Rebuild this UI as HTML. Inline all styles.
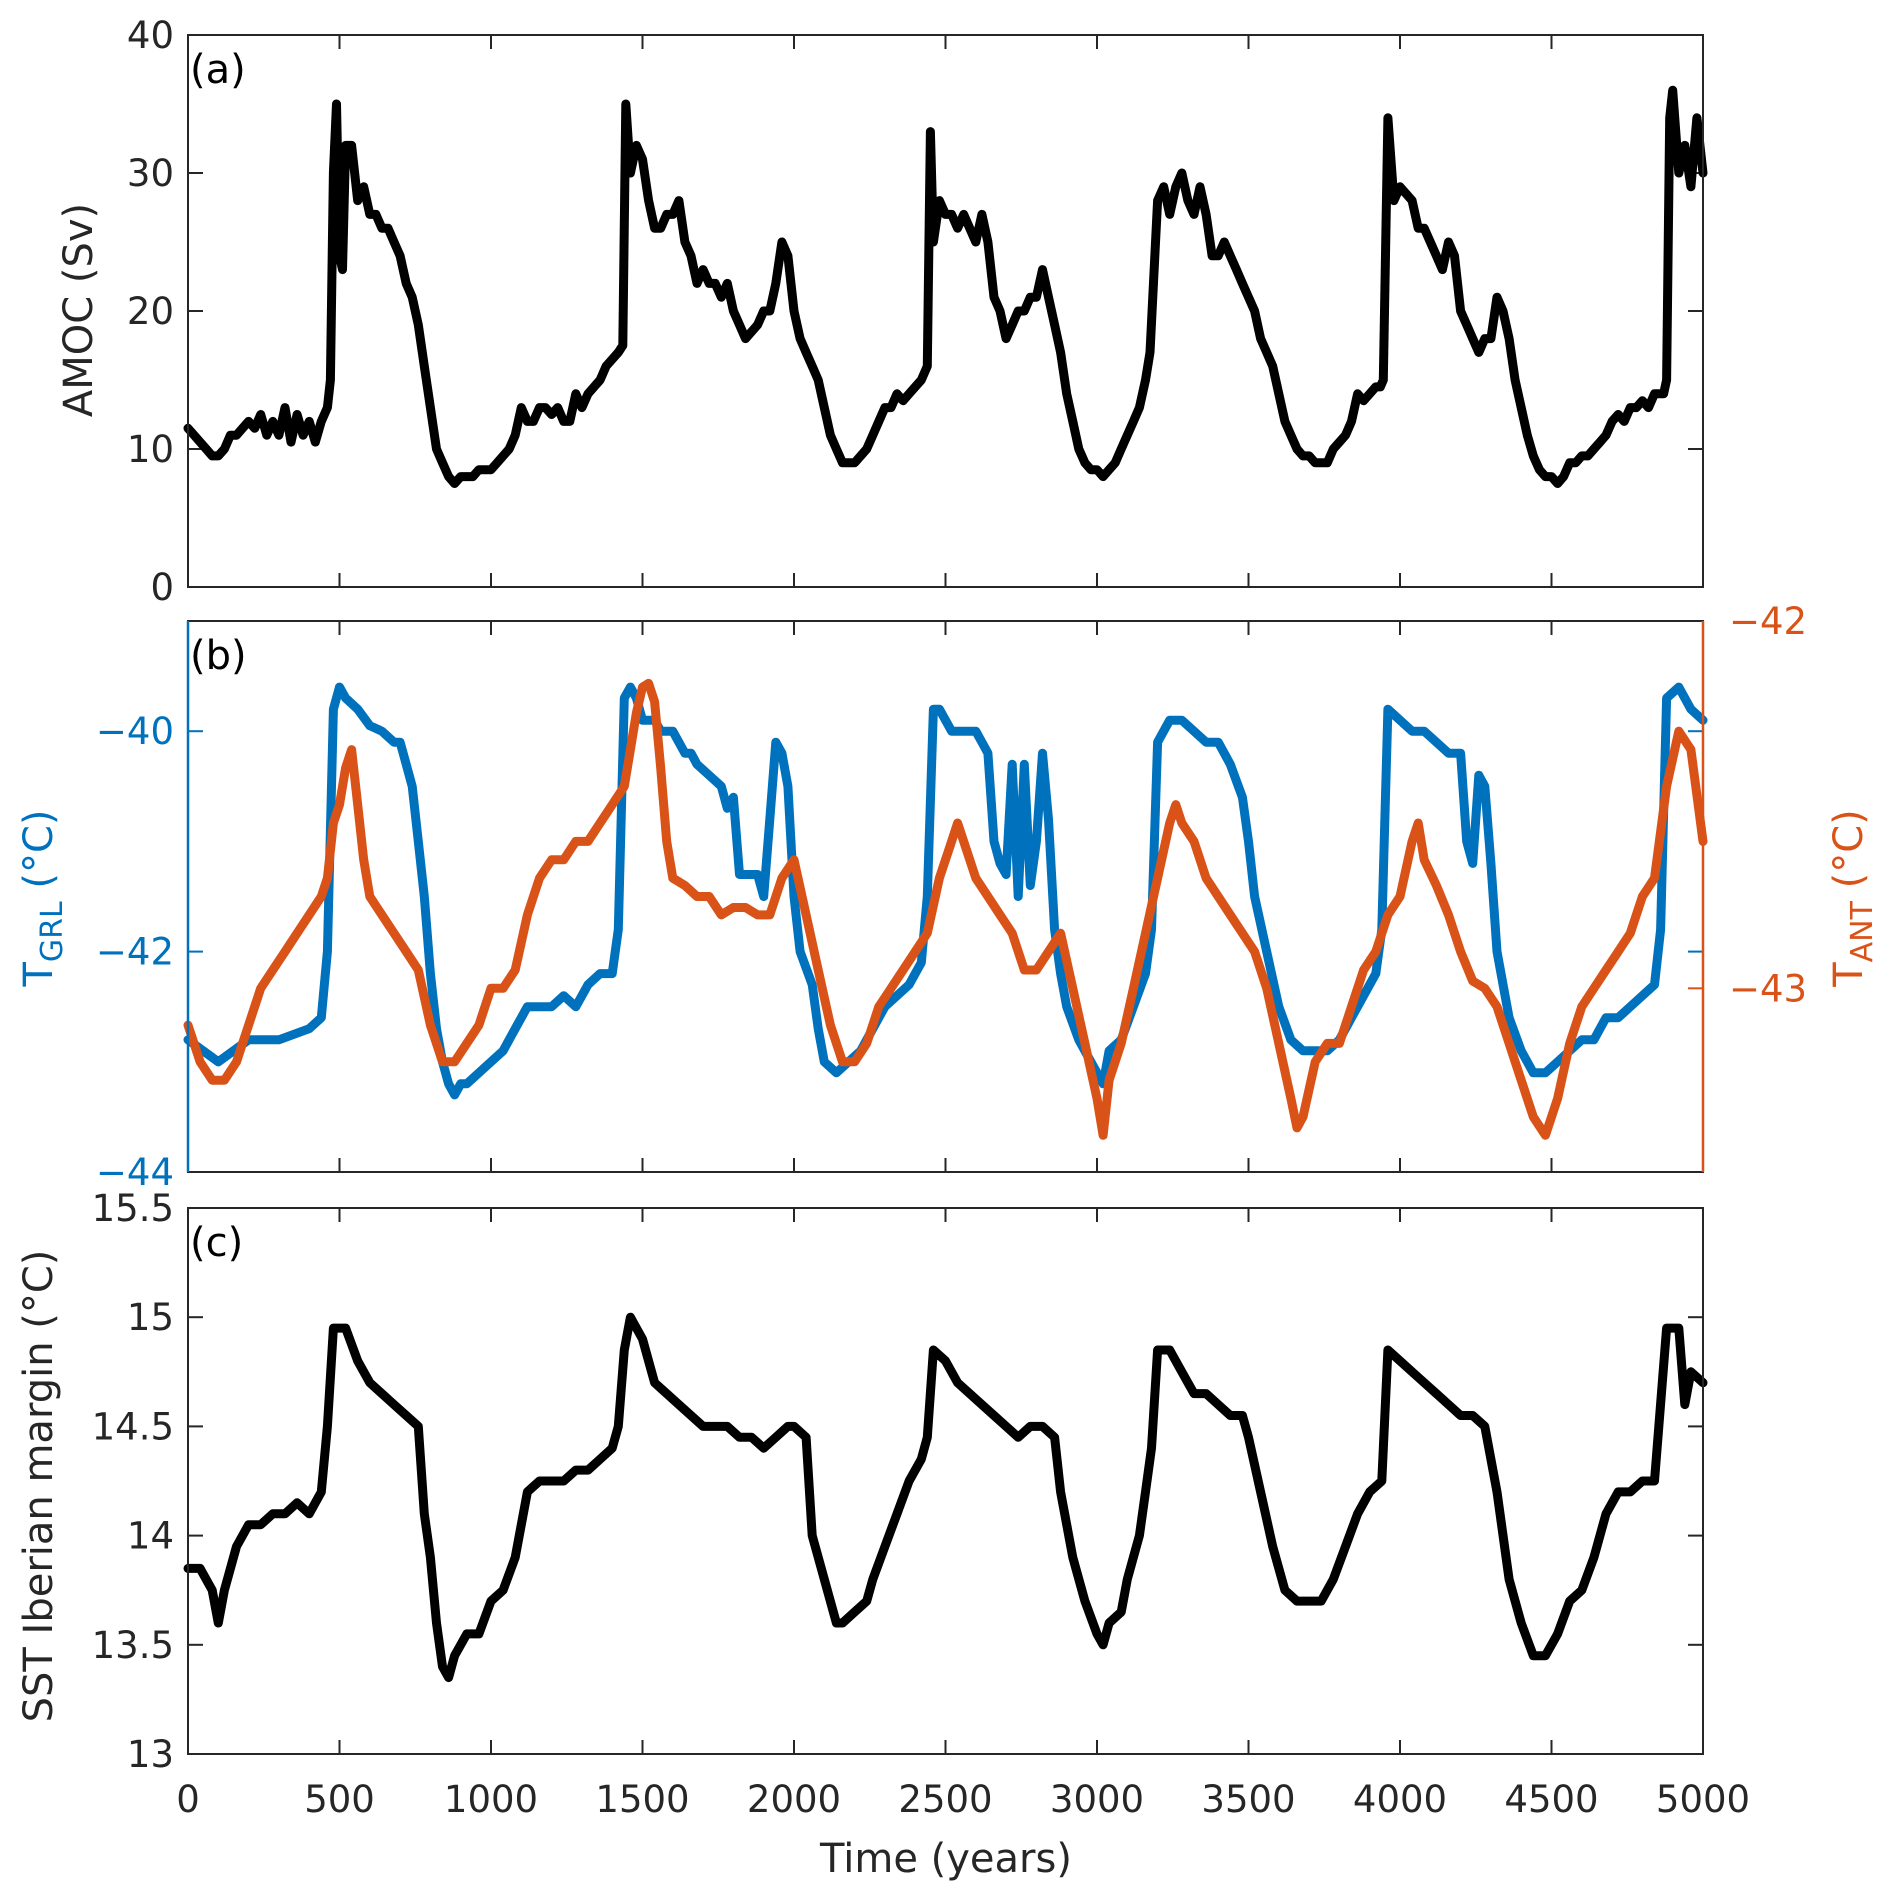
<!DOCTYPE html>
<html><head><meta charset="utf-8"><style>
html,body{margin:0;padding:0;background:#fff;}
svg{display:block;font-family:"DejaVu Sans","Liberation Sans",sans-serif;}
</style></head><body>
<svg id="fig" width="1892" height="1899" viewBox="0 0 1892 1899" xmlns="http://www.w3.org/2000/svg"></svg>
<script>
const xTicks=[0,500,1000,1500,2000,2500,3000,3500,4000,4500,5000];
const amocTicks=[0,10,20,30,40];
const tgrlTicks=[-44,-42,-40];
const tantTicks=[-43,-42];
const sstTicks=[13,13.5,14,14.5,15,15.5];
const sstTickLabels=["13","13.5","14","14.5","15","15.5"];
const amocYears=[0,20,40,60,80,100,120,140,160,180,200,220,240,260,280,300,320,340,360,380,400,420,440,460,470,480,490,500,510,520,540,560,580,600,620,640,660,680,700,720,740,760,780,800,820,840,860,880,900,920,940,960,980,1000,1020,1040,1060,1080,1100,1120,1140,1160,1180,1200,1220,1240,1260,1280,1300,1320,1340,1360,1380,1400,1420,1435,1445,1460,1470,1480,1500,1520,1540,1560,1580,1600,1620,1640,1660,1680,1700,1720,1740,1760,1780,1800,1820,1840,1860,1880,1900,1920,1940,1960,1980,2000,2020,2040,2060,2080,2100,2120,2140,2160,2180,2200,2220,2240,2260,2280,2300,2320,2340,2360,2380,2400,2420,2440,2450,2460,2480,2500,2520,2540,2560,2580,2600,2620,2640,2660,2680,2700,2720,2740,2760,2780,2800,2820,2840,2860,2880,2900,2920,2940,2960,2980,3000,3020,3040,3060,3080,3100,3120,3140,3160,3175,3200,3220,3240,3260,3280,3300,3320,3340,3360,3380,3400,3420,3440,3460,3480,3500,3520,3540,3560,3580,3600,3620,3640,3660,3680,3700,3720,3740,3760,3780,3800,3820,3840,3860,3880,3900,3920,3935,3945,3960,3980,4000,4020,4040,4060,4080,4100,4120,4140,4160,4180,4200,4220,4240,4260,4280,4300,4320,4340,4360,4380,4400,4420,4440,4460,4480,4500,4520,4540,4560,4580,4600,4620,4640,4660,4680,4700,4720,4740,4760,4780,4800,4820,4840,4860,4870,4880,4890,4900,4920,4940,4960,4980,5000];
const amocValues=[11.5,11,10.5,10,9.5,9.5,10,11,11,11.5,12,11.5,12.5,11,12,11,13,10.5,12.5,11,12,10.5,12,13,15,30,35,24,23,32,32,28,29,27,27,26,26,25,24,22,21,19,16,13,10,9,8,7.5,8,8,8,8.5,8.5,8.5,9,9.5,10,11,13,12,12,13,13,12.5,13,12,12,14,13,14,14.5,15,16,16.5,17,17.5,35,30,31,32,31,28,26,26,27,27,28,25,24,22,23,22,22,21,22,20,19,18,18.5,19,20,20,22,25,24,20,18,17,16,15,13,11,10,9,9,9,9.5,10,11,12,13,13,14,13.5,14,14.5,15,16,33,25,28,27,27,26,27,26,25,27,25,21,20,18,19,20,20,21,21,23,21,19,17,14,12,10,9,8.5,8.5,8,8.5,9,10,11,12,13,15,17,28,29,27,29,30,28,27,29,27,24,24,25,24,23,22,21,20,18,17,16,14,12,11,10,9.5,9.5,9,9,9,10,10.5,11,12,14,13.5,14,14.5,14.5,15,34,28,29,28.5,28,26,26,25,24,23,25,24,20,19,18,17,18,18,21,20,18,15,13,11,9.5,8.5,8,8,7.5,8,9,9,9.5,9.5,10,10.5,11,12,12.5,12,13,13,13.5,13,14,14,14,15,34,36,30,32,29,34,30,29,28.5];
const tgrlYears=[0,100,200,300,400,440,460,480,500,520,560,600,640,680,700,720,740,760,780,800,820,840,860,880,900,920,960,1000,1040,1080,1120,1160,1200,1240,1280,1320,1360,1400,1420,1440,1460,1480,1500,1540,1560,1600,1640,1660,1680,1720,1760,1780,1800,1820,1840,1880,1900,1920,1940,1960,1980,2000,2020,2060,2080,2100,2140,2180,2220,2260,2300,2340,2380,2420,2440,2460,2480,2520,2560,2600,2620,2640,2660,2680,2700,2720,2740,2760,2780,2800,2820,2840,2860,2880,2900,2940,2980,3000,3020,3040,3080,3120,3160,3180,3200,3240,3280,3320,3360,3400,3440,3480,3500,3520,3560,3600,3640,3680,3720,3760,3800,3840,3880,3920,3940,3960,4000,4040,4080,4120,4160,4200,4220,4240,4260,4280,4300,4320,4360,4400,4440,4480,4520,4560,4600,4640,4680,4720,4760,4800,4840,4860,4880,4920,4960,5000];
const tgrlValues=[-42.8,-43.0,-42.8,-42.8,-42.7,-42.6,-42.0,-39.8,-39.6,-39.7,-39.8,-39.95,-40.0,-40.1,-40.1,-40.3,-40.5,-41.0,-41.5,-42.2,-42.7,-43.0,-43.2,-43.3,-43.2,-43.2,-43.1,-43.0,-42.9,-42.7,-42.5,-42.5,-42.5,-42.4,-42.5,-42.3,-42.2,-42.2,-41.8,-39.7,-39.6,-39.7,-39.9,-39.9,-40.0,-40.0,-40.2,-40.2,-40.3,-40.4,-40.5,-40.7,-40.6,-41.3,-41.3,-41.3,-41.5,-40.8,-40.1,-40.2,-40.5,-41.5,-42.0,-42.3,-42.7,-43.0,-43.1,-43.0,-42.9,-42.7,-42.5,-42.4,-42.3,-42.1,-41.5,-39.8,-39.8,-40.0,-40.0,-40.0,-40.1,-40.2,-41.0,-41.2,-41.3,-40.3,-41.5,-40.3,-41.4,-41.0,-40.2,-40.8,-41.8,-42.2,-42.5,-42.8,-43.0,-43.1,-43.2,-42.9,-42.8,-42.5,-42.2,-41.8,-40.1,-39.9,-39.9,-40.0,-40.1,-40.1,-40.3,-40.6,-41.0,-41.5,-42.0,-42.5,-42.8,-42.9,-42.9,-42.9,-42.8,-42.6,-42.4,-42.2,-41.8,-39.8,-39.9,-40.0,-40.0,-40.1,-40.2,-40.2,-41.0,-41.2,-40.4,-40.5,-41.2,-42.0,-42.6,-42.9,-43.1,-43.1,-43.0,-42.9,-42.8,-42.8,-42.6,-42.6,-42.5,-42.4,-42.3,-41.8,-39.7,-39.6,-39.8,-39.9];
const tantYears=[0,40,80,120,160,200,240,280,320,360,400,440,460,480,500,520,540,560,580,600,640,680,720,760,800,840,880,920,960,1000,1040,1080,1120,1160,1200,1240,1280,1320,1360,1400,1440,1460,1480,1500,1520,1540,1560,1580,1600,1640,1680,1720,1760,1800,1840,1880,1920,1960,2000,2040,2080,2120,2160,2200,2240,2280,2320,2360,2400,2440,2480,2520,2540,2560,2600,2640,2680,2720,2760,2800,2840,2880,2920,2960,3000,3020,3040,3080,3120,3160,3200,3240,3260,3280,3320,3360,3400,3440,3480,3520,3560,3600,3640,3660,3680,3720,3760,3800,3840,3880,3920,3960,4000,4040,4060,4080,4120,4160,4200,4240,4280,4320,4360,4400,4440,4480,4520,4560,4600,4640,4680,4720,4760,4800,4840,4880,4920,4960,5000];
const tantValues=[-43.1,-43.2,-43.25,-43.25,-43.2,-43.1,-43.0,-42.95,-42.9,-42.85,-42.8,-42.75,-42.7,-42.55,-42.5,-42.4,-42.35,-42.5,-42.65,-42.75,-42.8,-42.85,-42.9,-42.95,-43.1,-43.2,-43.2,-43.15,-43.1,-43.0,-43.0,-42.95,-42.8,-42.7,-42.65,-42.65,-42.6,-42.6,-42.55,-42.5,-42.45,-42.35,-42.25,-42.18,-42.17,-42.22,-42.4,-42.6,-42.7,-42.72,-42.75,-42.75,-42.8,-42.78,-42.78,-42.8,-42.8,-42.7,-42.65,-42.8,-42.95,-43.1,-43.2,-43.2,-43.15,-43.05,-43.0,-42.95,-42.9,-42.85,-42.7,-42.6,-42.55,-42.6,-42.7,-42.75,-42.8,-42.85,-42.95,-42.95,-42.9,-42.85,-43.0,-43.15,-43.3,-43.4,-43.25,-43.15,-43.0,-42.85,-42.7,-42.55,-42.5,-42.55,-42.6,-42.7,-42.75,-42.8,-42.85,-42.9,-43.0,-43.15,-43.3,-43.38,-43.35,-43.2,-43.15,-43.15,-43.05,-42.95,-42.9,-42.8,-42.75,-42.6,-42.55,-42.65,-42.72,-42.8,-42.9,-42.98,-43.0,-43.05,-43.15,-43.25,-43.35,-43.4,-43.3,-43.15,-43.05,-43.0,-42.95,-42.9,-42.85,-42.75,-42.7,-42.45,-42.3,-42.35,-42.6];
const sstYears=[0,40,80,100,120,160,200,240,280,320,360,400,440,460,480,520,560,600,640,680,720,760,780,800,820,840,860,880,920,960,1000,1040,1080,1120,1160,1200,1240,1280,1320,1360,1400,1420,1440,1460,1500,1540,1580,1620,1660,1700,1740,1780,1820,1860,1900,1940,1980,2000,2040,2060,2100,2140,2160,2200,2240,2260,2300,2340,2380,2420,2440,2460,2500,2540,2580,2620,2660,2700,2740,2780,2820,2860,2880,2920,2960,3000,3020,3040,3080,3100,3140,3160,3180,3200,3240,3280,3320,3360,3400,3440,3480,3500,3540,3580,3620,3660,3700,3740,3780,3820,3860,3900,3940,3960,4000,4040,4080,4120,4160,4200,4240,4280,4320,4360,4400,4440,4480,4520,4560,4600,4640,4680,4720,4760,4800,4840,4880,4920,4940,4960,5000];
const sstValues=[13.85,13.85,13.75,13.6,13.75,13.95,14.05,14.05,14.1,14.1,14.15,14.1,14.2,14.5,14.95,14.95,14.8,14.7,14.65,14.6,14.55,14.5,14.1,13.9,13.6,13.4,13.35,13.45,13.55,13.55,13.7,13.75,13.9,14.2,14.25,14.25,14.25,14.3,14.3,14.35,14.4,14.5,14.85,15.0,14.9,14.7,14.65,14.6,14.55,14.5,14.5,14.5,14.45,14.45,14.4,14.45,14.5,14.5,14.45,14.0,13.8,13.6,13.6,13.65,13.7,13.8,13.95,14.1,14.25,14.35,14.45,14.85,14.8,14.7,14.65,14.6,14.55,14.5,14.45,14.5,14.5,14.45,14.2,13.9,13.7,13.55,13.5,13.6,13.65,13.8,14.0,14.2,14.4,14.85,14.85,14.75,14.65,14.65,14.6,14.55,14.55,14.45,14.2,13.95,13.75,13.7,13.7,13.7,13.8,13.95,14.1,14.2,14.25,14.85,14.8,14.75,14.7,14.65,14.6,14.55,14.55,14.5,14.2,13.8,13.6,13.45,13.45,13.55,13.7,13.75,13.9,14.1,14.2,14.2,14.25,14.25,14.95,14.95,14.6,14.75,14.7];

const NS="http://www.w3.org/2000/svg";
const svg=document.getElementById('fig');
const L=188,R=1703;
const BLUE="#0072BD",ORANGE="#D95319",AX="#262626";
function xs(t){return L+(t/5000)*(R-L);}
function mk(tag,attrs,parent){const e=document.createElementNS(NS,tag);for(const k in attrs)e.setAttribute(k,attrs[k]);(parent||svg).appendChild(e);return e;}
function lin(v0,v1,p0,p1){return v=>p0+(v-v0)/(v1-v0)*(p1-p0);}

const panels=[
 {id:'a',top:35,bot:587},
 {id:'b',top:621,bot:1172},
 {id:'c',top:1208,bot:1754}
];
const yA=lin(0,40,587,35);
const yBL=lin(-44,-39,1172,621);
const yBR=lin(-43.5,-42,1172,621);
const yC=lin(13,15.5,1754,1208);

function drawLine(years,vals,ys,color,name){
  let d='';
  for(let i=0;i<years.length;i++){d+=(i?'L':'M')+xs(years[i]).toFixed(1)+','+ys(vals[i]).toFixed(1);}
  const p=mk('path',{d:d,fill:'none',stroke:color,'stroke-width':9,'stroke-linejoin':'round','stroke-linecap':'round'});
  
  
}
function txt(s,x,y,size,color,anchor,name,rot){
  const t=mk('text',{x:x,y:y,'font-size':size,fill:color,'text-anchor':anchor||'middle'});
  if(rot)t.setAttribute('transform','rotate(-90 '+x+' '+y+')');
  t.textContent=s;
  
  
  return t;
}

panels.forEach(p=>{
  for(const t of xTicks){
    const x=xs(t);
    const tk=mk('line',{x1:x,x2:x,y1:p.bot,y2:p.bot-14,stroke:AX,'stroke-width':2});
    
    
    mk('line',{x1:x,x2:x,y1:p.top,y2:p.top+14,stroke:AX,'stroke-width':2});
  }
});
function yTicks(vals,ys,side,color,labels,p,showLbl){
  vals.forEach((v,i)=>{
    const y=ys(v);
    const x0=side==='l'?L:R, dx=side==='l'?15:-15;
    const tk=mk('line',{x1:x0,x2:x0+dx,y1:y,y2:y,stroke:color,'stroke-width':2});
    
    
    if(showLbl){
      if(side==='l')txt(labels?labels[i]:String(v).replace('-','\u2212'),L-14,y+13,37,color,'end','y-tick-label');
      else txt(String(v).replace('-','\u2212'),R+26,y+13,37,color,'start','y2-tick-label');
    }
  });
}
yTicks(amocTicks,yA,'l',AX,null,panels[0],true);
yTicks(amocTicks,yA,'r',AX,null,panels[0],false);
yTicks(tgrlTicks,yBL,'l',BLUE,null,panels[1],true);
yTicks(tgrlTicks,yBL,'r',BLUE,null,panels[1],false);
yTicks(tantTicks,yBR,'r',ORANGE,null,panels[1],true);
yTicks(sstTicks,yC,'l',AX,sstTickLabels,panels[2],true);
yTicks(sstTicks,yC,'r',AX,null,panels[2],false);

xTicks.forEach(t=>txt(String(t),xs(t),1812,37,AX,'middle','x-tick-label'));

drawLine(amocYears,amocValues,yA,'#000','amoc-line');
drawLine(tgrlYears,tgrlValues,yBL,BLUE,'tgrl-line');
drawLine(tantYears,tantValues,yBR,ORANGE,'tant-line');
drawLine(sstYears,sstValues,yC,'#000','sst-line');

panels.forEach(p=>{
  const r=mk('rect',{x:L,y:p.top,width:R-L,height:p.bot-p.top,fill:'none',stroke:AX,'stroke-width':2});
  
  
});
mk('line',{x1:L,x2:L,y1:621,y2:1172,stroke:BLUE,'stroke-width':2.5});
mk('line',{x1:R,x2:R,y1:621,y2:1172,stroke:ORANGE,'stroke-width':2.5});

txt('(a)',190,83,40,'#000','start','panel-a-label');
txt('(b)',190,669,40,'#000','start','panel-b-label');
txt('(c)',190,1256,40,'#000','start','panel-c-label');

txt('AMOC (Sv)',92,310,40,AX,'middle','amoc-axis-title',true);
const tg=mk('text',{x:52,y:898,'font-size':40,fill:BLUE,'text-anchor':'middle',transform:'rotate(-90 52 898)'});


tg.innerHTML='T<tspan font-size="30" dy="10">GRL</tspan><tspan dy="-10"> (°C)</tspan>';
const ta=mk('text',{x:1862,y:898,'font-size':40,fill:ORANGE,'text-anchor':'middle',transform:'rotate(-90 1862 898)'});


ta.innerHTML='T<tspan font-size="30" dy="10">ANT</tspan><tspan dy="-10"> (°C)</tspan>';
txt('SST Iberian margin (°C)',52,1486,40,AX,'middle','sst-axis-title',true);
txt('Time (years)',946,1872,40,AX,'middle','x-axis-title');
</script>
</body></html>
